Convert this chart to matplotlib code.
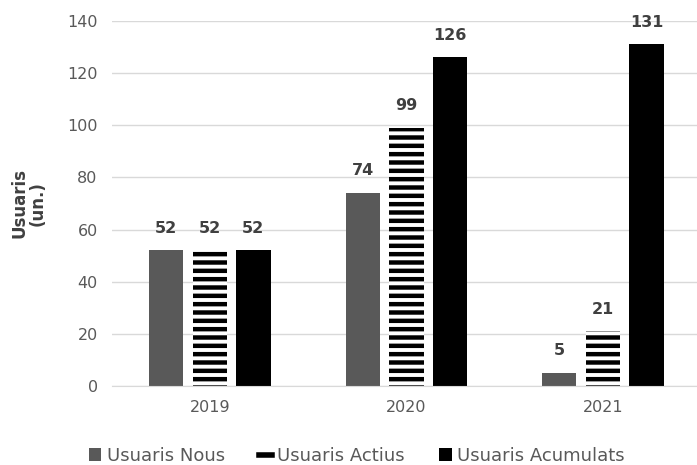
import matplotlib
matplotlib.use("Agg")
import matplotlib.pyplot as plt
from matplotlib.patches import Patch
from matplotlib.lines import Line2D
import numpy as np

years = ["2019", "2020", "2021"]
nous = [52, 74, 5]
actius = [52, 99, 21]
acumulats = [52, 126, 131]
labels = ["Usuaris Nous", "Usuaris Actius", "Usuaris Acumulats"]

plt.rcParams["font.family"] = ["DejaVu Sans"]
plt.rcParams["hatch.linewidth"] = 3.2
plt.rcParams["hatch.color"] = "black"

fig = plt.figure(figsize=(6.97, 4.65), dpi=100)
ax = fig.add_axes([0.16, 0.170, 0.846, 0.785])

x = np.arange(len(years))
w = 0.175
off = 0.222
txt = "#404040"

b1 = ax.bar(x - off, nous, w, color="#595959", zorder=2)
b2 = ax.bar(x, actius, w, color="white", hatch="--", edgecolor="black", linewidth=0, zorder=2)
b3 = ax.bar(x + off, acumulats, w, color="black", zorder=2)

for bars, vals in [(b1, nous), (b2, actius), (b3, acumulats)]:
    for rect, v in zip(bars, vals):
        ax.annotate(str(v), (rect.get_x() + rect.get_width() / 2, v),
                    xytext=(0, 10.5), textcoords="offset points",
                    ha="center", va="bottom", fontsize=11.5, fontweight="bold", color=txt)

ax.set_xlim(-0.5, 2.5)
ax.set_ylim(0, 140)
ax.set_yticks(range(0, 141, 20))
ax.set_xticks(x)
ax.set_xticklabels(years)
ax.grid(axis="y", color="#d9d9d9", linewidth=1, zorder=0)
for s in ["left", "right", "top"]:
    ax.spines[s].set_visible(False)
ax.spines["bottom"].set_color("#d9d9d9")
ax.tick_params(axis="both", length=0, labelsize=11.5, labelcolor="#595959", pad=10)
ax.set_ylabel("Usuaris\n(un.)", fontsize=12, fontweight="bold", color=txt, labelpad=15, linespacing=1.0)

handles = [Patch(facecolor="#595959"),
           Line2D([], [], color="black", linewidth=4),
           Patch(facecolor="black")]
fig.legend(handles, labels, loc="lower center", bbox_to_anchor=(0.512, -0.035), ncol=3,
           frameon=False, fontsize=13, labelcolor="#595959",
           handlelength=0.7, handleheight=0.7, handletextpad=0.3, columnspacing=1.9)

fig.savefig("out.png", dpi=100)
